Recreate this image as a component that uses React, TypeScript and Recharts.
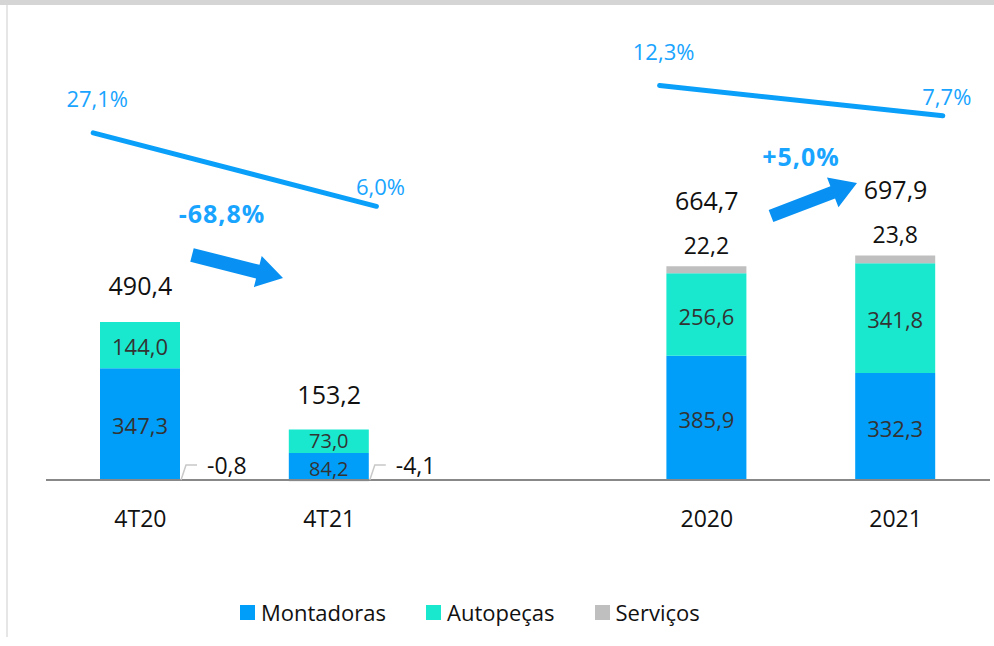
import { Bar, ComposedChart, LabelList, Line, ReferenceLine, XAxis, YAxis } from 'recharts';

const CATEGORIES = ['4T20', '4T21', '', '2020', '2021'];
const MONTADORAS = [347.3, 84.2, null, 385.9, 332.3];
const AUTOPECAS = [144.0, 73.0, null, 256.6, 341.8];
const SERVICOS = [-0.8, -4.1, null, 22.2, 23.8];
const TOTALS = [490.4, 153.2, null, 664.7, 697.9];

// margem (%) - trimestre e ano
const MARGIN_Q = [27.1, 6.0];
const MARGIN_Q_IDX = [0, 1];
const MARGIN_Y = [12.3, 7.7];
const MARGIN_Y_IDX = [3, 4];

const VARIATIONS = ['-68,8%', '+5,0%'];

const SERIES = [
  { key: 'mont', name: 'Montadoras', color: '#019ef9' },
  { key: 'auto', name: 'Autopeças', color: '#19e8cf' },
  { key: 'serv', name: 'Serviços', color: '#bfbfbf' },
];

const FONT = '"Open Sans", sans-serif';
const LINE_BLUE = '#0aa0fa';
const TEXT_BLUE = '#18a4ff';
const ARROW_BLUE = '#0891f2';
const EXT = 0.25;

const rows = CATEGORIES.map((label, i) => ({
  label,
  mont: MONTADORAS[i],
  auto: AUTOPECAS[i],
  serv: SERVICOS[i],
  total: TOTALS[i],
}));

const lineQ = MARGIN_Q.map((v, i) => ({ x: MARGIN_Q_IDX[i] + (i === 0 ? -EXT : EXT), v }));
const lineY = MARGIN_Y.map((v, i) => ({ x: MARGIN_Y_IDX[i] + (i === 0 ? -EXT : EXT), v }));

const fmt = (v: number) => v.toFixed(1).replace('.', ',');

function InnerLabel(props: any) {
  const { x, y, width, height, value, nudge = 0 } = props;
  if (value == null) return null;
  const small = Math.abs(height) < 32;
  return (
    <text x={x + width / 2} y={y + height / 2 + 1 + (small ? nudge : 0)} textAnchor="middle" dominantBaseline="central"
      fontFamily={FONT} fontSize={small ? 20 : 22} fill="#333">
      {fmt(value)}
    </text>
  );
}

function ServLabel(props: any) {
  const { x, y, width, height, value } = props;
  if (value == null) return null;
  if (value < 0) {
    const zy = Math.min(y, y + height);
    const rx = x + width;
    return (
      <g>
        <polyline points={`${rx + 1},${zy} ${rx + 6},${zy - 15} ${rx + 17},${zy - 15}`}
          fill="none" stroke="#c8c8c8" strokeWidth={1.5} />
        <text x={rx + 27} y={zy - 15} dominantBaseline="central" fontFamily={FONT} fontSize={23} fill="#111">
          {fmt(value)}
        </text>
      </g>
    );
  }
  return (
    <text x={x + width / 2} y={y - 21} textAnchor="middle" dominantBaseline="central"
      fontFamily={FONT} fontSize={23} fill="#111">
      {fmt(value)}
    </text>
  );
}

function TotalLabel(props: any) {
  const { x, y, value, index } = props;
  if (value == null) return null;
  const serv = SERVICOS[index] ?? 0;
  return (
    <text x={x} y={y - (serv > 0 ? 66 : 37)} textAnchor="middle" dominantBaseline="central"
      fontFamily={FONT} fontSize={25} fill="#111">
      {fmt(value)}
    </text>
  );
}

function MarginLabel(props: any) {
  const { x, y, value, index } = props;
  return (
    <text x={x + 4} y={y - (index === 0 ? 35 : 20)} textAnchor="middle" dominantBaseline="central"
      fontFamily={FONT} fontSize={22} fill={TEXT_BLUE}>
      {fmt(value)}%
    </text>
  );
}

function CategoryTick(props: any) {
  const { x, y, payload } = props;
  return (
    <text x={x} y={y + 35} textAnchor="middle" dominantBaseline="central" fontFamily={FONT} fontSize={23} fill="#111">
      {payload.value}
    </text>
  );
}

function arrowPoints(x1: number, y1: number, x2: number, y2: number, sw = 14, hw = 32, hl = 26) {
  const len = Math.hypot(x2 - x1, y2 - y1);
  const ux = (x2 - x1) / len;
  const uy = (y2 - y1) / len;
  const nx = -uy;
  const ny = ux;
  const bx = x2 - ux * hl;
  const by = y2 - uy * hl;
  const p = [
    [x1 + nx * sw / 2, y1 + ny * sw / 2],
    [bx + nx * sw / 2, by + ny * sw / 2],
    [bx + nx * hw / 2, by + ny * hw / 2],
    [x2, y2],
    [bx - nx * hw / 2, by - ny * hw / 2],
    [bx - nx * sw / 2, by - ny * sw / 2],
    [x1 - nx * sw / 2, y1 - ny * sw / 2],
  ];
  return p.map((q) => q.join(',')).join(' ');
}

export default function App() {
  return (
    <div style={{ position: 'absolute', left: 0, top: 0, width: 994, height: 646, background: '#fff', overflow: 'hidden' }}>
      <div style={{ position: 'absolute', left: 0, top: 0, width: 994, height: 5, background: '#d5d5d5' }} />
      <div style={{ position: 'absolute', left: 6, top: 5, width: 2, height: 632, background: '#e6e6e6' }} />
      <ComposedChart width={994} height={646} data={rows} stackOffset="sign"
        margin={{ top: 20, right: 4, left: 46, bottom: 122.8 }}>
        <XAxis xAxisId="cat" dataKey="label" height={40} tickLine={false} tickSize={0} tickMargin={0}
          axisLine={false} tick={<CategoryTick />} interval={0} />
        <XAxis xAxisId="num" type="number" dataKey="x" domain={[-0.5, 4.5]} allowDataOverflow hide />
        <YAxis yAxisId="bars" domain={[-10, 1430]} allowDataOverflow hide />
        <YAxis yAxisId="mq" domain={[-73.5, 59.5]} allowDataOverflow hide />
        <YAxis yAxisId="my" domain={[-48.3, 22.3]} allowDataOverflow hide />
        {SERIES.map((s) => (
          <Bar key={s.key} xAxisId="cat" yAxisId="bars" dataKey={s.key} name={s.name} stackId="a"
            fill={s.color} barSize={80} isAnimationActive={false}>
            <LabelList dataKey={s.key}
              content={s.key === 'serv' ? <ServLabel /> : <InnerLabel nudge={s.key === 'mont' ? 1.5 : -1.5} />} />
          </Bar>
        ))}
        <ReferenceLine xAxisId="cat" yAxisId="bars" y={0} stroke="#888" strokeWidth={2} />
        <Line xAxisId="cat" yAxisId="bars" dataKey="total" stroke="none" dot={false} activeDot={false}
          isAnimationActive={false} legendType="none">
          <LabelList dataKey="total" content={<TotalLabel />} />
        </Line>
        <Line xAxisId="num" yAxisId="mq" data={lineQ} dataKey="v" stroke={LINE_BLUE} strokeWidth={5}
          strokeLinecap="round" dot={false} activeDot={false} isAnimationActive={false} legendType="none">
          <LabelList dataKey="v" content={<MarginLabel />} />
        </Line>
        <Line xAxisId="num" yAxisId="my" data={lineY} dataKey="v" stroke={LINE_BLUE} strokeWidth={5}
          strokeLinecap="round" dot={false} activeDot={false} isAnimationActive={false} legendType="none">
          <LabelList dataKey="v" content={<MarginLabel />} />
        </Line>
      </ComposedChart>
      <svg width={994} height={646} style={{ position: 'absolute', left: 0, top: 0, pointerEvents: 'none' }}>
        <polygon points={arrowPoints(192, 255, 283, 278)} fill={ARROW_BLUE} />
        <polygon points={arrowPoints(771, 216, 857, 183, 13)} fill={ARROW_BLUE} />
        <text x={222} y={213} textAnchor="middle" dominantBaseline="central" fontFamily={FONT}
          fontSize={25} fontWeight={700} letterSpacing={1} fill={TEXT_BLUE}>{VARIATIONS[0]}</text>
        <text x={801} y={156} textAnchor="middle" dominantBaseline="central" fontFamily={FONT}
          fontSize={25} fontWeight={700} letterSpacing={1} fill={TEXT_BLUE}>{VARIATIONS[1]}</text>
      </svg>
      <div style={{ position: 'absolute', left: 240, top: 597, display: 'flex', gap: 40, fontFamily: FONT, fontSize: 22, color: '#111' }}>
        {SERIES.map((s) => (
          <div key={s.key} style={{ display: 'flex', alignItems: 'center', gap: 6 }}>
            <span style={{ width: 15, height: 15, background: s.color, display: 'inline-block' }} />
            <span>{s.name}</span>
          </div>
        ))}
      </div>
    </div>
  );
}
